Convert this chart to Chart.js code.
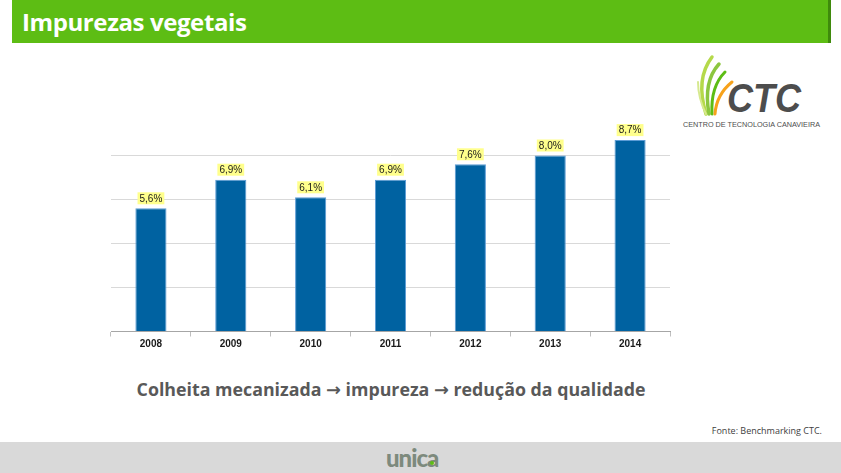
<!DOCTYPE html>
<html>
<head>
<meta charset="utf-8">
<script src="https://cdn.jsdelivr.net/npm/chart.js@4.4.0/dist/chart.umd.min.js"></script>
<style>
  html, body { margin: 0; padding: 0; background: #fff; }
  body { width: 841px; height: 473px; position: relative; overflow: hidden; font-family: "Liberation Sans", Arial, sans-serif; }
  #titlebar { position: absolute; left: 12px; top: 0; width: 816px; height: 43px; background: #5dbd14; border-right: 3px solid #3f8a0c; }
  #titlebar span { position: absolute; left: 10px; top: 5px; color: #fff; font: bold 24px "Open Sans", "DejaVu Sans", sans-serif; letter-spacing: -0.4px; }
  #chartBox { position: absolute; left: 100px; top: 100px; width: 590px; height: 260px; }
  #subtitle { position: absolute; left: 110px; top: 377px; width: 562px; text-align: center; color: #595959; font: bold 17.8px "Open Sans", "DejaVu Sans", sans-serif; white-space: nowrap; }
  #fonte { position: absolute; right: 19px; top: 424px; color: #404040; font: 9px "Open Sans", sans-serif; }
  #footer { position: absolute; left: 0; top: 442px; width: 841px; height: 31px; background: #d9d9d9; }
  #unica { position: absolute; left: 386px; top: 1px; color: #7d8a7d; font: 900 24px "Lato", "DejaVu Sans", sans-serif; letter-spacing: -1px; }
  #unica i { display: inline-block; width: 4px; height: 4px; background: #5dbd14; border-radius: 2px; margin-left: -8px; vertical-align: 2px; }
  #logo { position: absolute; left: 678px; top: 52px; width: 150px; height: 80px; }
</style>
</head>
<body>
<div id="titlebar"><span>Impurezas vegetais</span></div>

<svg id="logo" viewBox="0 0 150 80">
  <path d="M34 5 C24 18 20 36 28 62" stroke="#b5d94a" stroke-width="3.5" fill="none" stroke-linecap="round"/>
  <path d="M41 12 C30 24 27 40 31 62" stroke="#8cc63f" stroke-width="3.5" fill="none" stroke-linecap="round"/>
  <path d="M47 20 C37 30 33 44 34 62" stroke="#5dbd14" stroke-width="3" fill="none" stroke-linecap="round"/>
  <path d="M54 30 C44 38 38 48 37 62" stroke="#f7a21b" stroke-width="3" fill="none" stroke-linecap="round"/>
  <path d="M20 30 C20 42 23 52 28 62" stroke="#d6e98f" stroke-width="2" fill="none" stroke-linecap="round"/>
  <text x="49" y="60" font-family="Liberation Sans, Arial" font-weight="bold" font-style="italic" font-size="40" fill="#4d4d4d" textLength="74" lengthAdjust="spacingAndGlyphs">CTC</text>
  <text x="5" y="75" font-family="Liberation Sans, Arial" font-size="7.5" fill="#4d4d4d" textLength="137" lengthAdjust="spacingAndGlyphs">CENTRO DE TECNOLOGIA CANAVIEIRA</text>
</svg>

<div id="chartBox"><canvas id="chart" width="590" height="260"></canvas></div>

<div id="subtitle">Colheita mecanizada &#8594; impureza &#8594; redução da qualidade</div>
<div id="fonte">Fonte: Benchmarking CTC.</div>
<div id="footer"><div id="unica">unica<i></i></div></div>

<script>
let years = ['2008', '2009', '2010', '2011', '2012', '2013', '2014'];
let impureza = [5.6, 6.9, 6.1, 6.9, 7.6, 8.0, 8.7];
let yMax = 10;
let yStep = 2;

function fmtPct(v) {
    return v.toFixed(1).replace('.', ',') + '%';
}

// yellow value boxes over the bars
const valueLabels = {
    id: 'valueLabels',
    afterDatasetsDraw(chart) {
        const ctx = chart.ctx;
        const meta = chart.getDatasetMeta(0);
        ctx.save();
        ctx.font = '10px "Liberation Sans Narrow", "Liberation Sans", Arial, sans-serif';
        ctx.textAlign = 'center';
        ctx.textBaseline = 'middle';
        meta.data.forEach((bar, i) => {
            const txt = fmtPct(impureza[i]);
            const w = ctx.measureText(txt).width + 4;
            const cy = bar.y - 10;
            ctx.fillStyle = '#ffff8c';
            ctx.fillRect(bar.x - w / 2, cy - 6, w, 12);
            ctx.fillStyle = '#1a1a1a';
            ctx.fillText(txt, bar.x, cy + 0.5);
        });
        ctx.restore();
    }
};

const chart = new Chart(document.getElementById('chart'), {
    type: 'bar',
    data: {
        labels: years,
        datasets: [{
            data: impureza,
            backgroundColor: '#0062a1',
            borderColor: '#5b9bd5',
            borderWidth: 1,
            barPercentage: 0.39,
            categoryPercentage: 1
        }]
    },
    options: {
        responsive: false,
        animation: false,
        maintainAspectRatio: false,
        layout: { padding: { left: 11, right: 20, top: 11.5, bottom: 7.5 } },
        plugins: {
            legend: { display: false },
            tooltip: { enabled: false }
        },
        scales: {
            x: {
                grid: {
                    offset: true,
                    drawOnChartArea: false,
                    drawTicks: true,
                    tickLength: 5,
                    color: '#bfbfbf'
                },
                border: { color: '#a6a6a6' },
                ticks: {
                    color: '#1a1a1a',
                    padding: 2,
                    font: { family: '"Liberation Sans", Arial, sans-serif', size: 10, weight: 'bold' }
                }
            },
            y: {
                min: 0,
                max: yMax,
                ticks: { display: false, stepSize: yStep },
                border: { display: false },
                grid: {
                    drawTicks: false,
                    color: (c) => (c.tick && c.tick.value === 0) || (c.tick && c.tick.value === yMax) ? 'rgba(0,0,0,0)' : '#d9d9d9'
                }
            }
        }
    },
    plugins: [valueLabels]
});
</script>
</body>
</html>
